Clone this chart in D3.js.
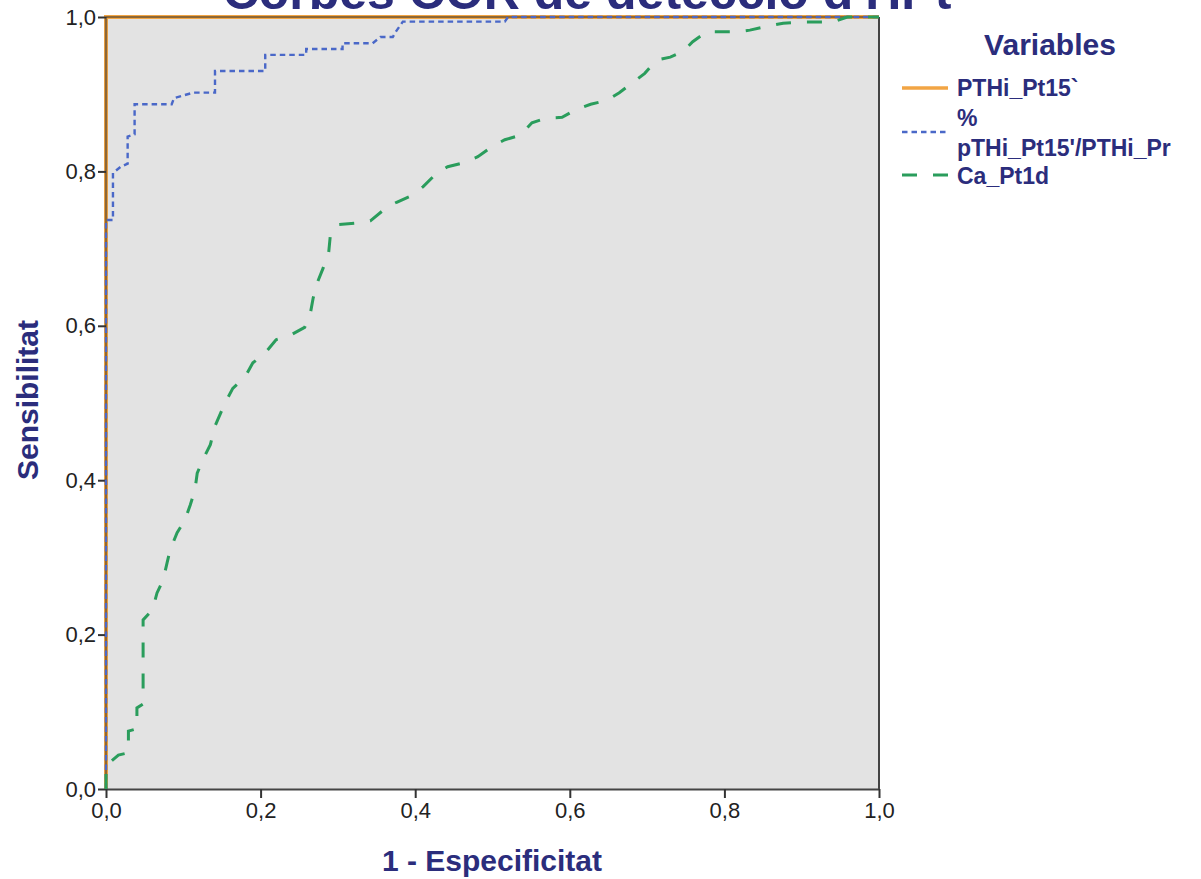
<!DOCTYPE html>
<html>
<head>
<meta charset="utf-8">
<script src="https://cdn.jsdelivr.net/npm/d3@7"></script>
<style>
  html, body { margin: 0; padding: 0; background: #ffffff; }
  svg { display: block; }
  text { font-family: "Liberation Sans", Arial, sans-serif; }
</style>
</head>
<body>
<svg id="chart" width="1201" height="879"></svg>
<script>
// ROC curves: (1 - specificity, sensitivity) pairs for each variable
const seriesNames = ["PTHi_Pt15`", "%\npTHi_Pt15'/PTHi_Pr", "Ca_Pt1d"];

const pthiFpr = [0, 0, 1];
const pthiTpr = [0, 1, 1];

const ratioFpr = [0, 0, 0.009, 0.009, 0.019, 0.028, 0.028, 0.037, 0.037, 0.085, 0.088, 0.113, 0.141, 0.141,
  0.206, 0.206, 0.259, 0.259, 0.306, 0.306, 0.345, 0.355, 0.371, 0.375, 0.384, 0.516, 0.52, 1];
const ratioTpr = [0, 0.737, 0.737, 0.798, 0.806, 0.81, 0.845, 0.848, 0.887, 0.887, 0.895, 0.902, 0.902, 0.930,
  0.930, 0.951, 0.951, 0.9585, 0.9585, 0.966, 0.966, 0.974, 0.974, 0.981, 0.994, 0.994, 1, 1];

const caFpr = [0, 0, 0.016, 0.029, 0.029, 0.040, 0.040, 0.048, 0.048, 0.060, 0.066, 0.074, 0.079, 0.083, 0.092,
  0.102, 0.109, 0.115, 0.118, 0.125, 0.135, 0.141, 0.154, 0.164, 0.180, 0.190, 0.206, 0.220, 0.239,
  0.257, 0.264, 0.268, 0.273, 0.281, 0.288, 0.290, 0.300, 0.323, 0.342, 0.364, 0.376, 0.396, 0.410,
  0.428, 0.442, 0.462, 0.481, 0.499, 0.516, 0.536, 0.551, 0.569, 0.590, 0.608, 0.627, 0.648, 0.664,
  0.680, 0.697, 0.712, 0.730, 0.746, 0.759, 0.777, 0.798, 0.818, 0.833, 0.856, 0.876, 0.898, 0.917,
  0.940, 0.959, 1];
const caTpr = [0, 0.03, 0.044, 0.047, 0.075, 0.078, 0.105, 0.110, 0.219, 0.232, 0.254, 0.271, 0.293, 0.310, 0.332,
  0.348, 0.368, 0.387, 0.409, 0.426, 0.446, 0.470, 0.500, 0.519, 0.534, 0.552, 0.565, 0.582, 0.588,
  0.598, 0.614, 0.636, 0.655, 0.675, 0.694, 0.715, 0.731, 0.733, 0.736, 0.754, 0.760, 0.769, 0.780,
  0.798, 0.806, 0.811, 0.819, 0.832, 0.841, 0.847, 0.863, 0.869, 0.870, 0.880, 0.887, 0.892, 0.902,
  0.914, 0.927, 0.944, 0.948, 0.955, 0.968, 0.981, 0.981, 0.981, 0.983, 0.988, 0.992, 0.9935, 0.9935,
  0.9935, 1.0, 1];

const tickValues = [0, 0.2, 0.4, 0.6, 0.8, 1.0];
const tickLabels = ["0,0", "0,2", "0,4", "0,6", "0,8", "1,0"];

const titleText = "Corbes COR de detecció d'HPt";
const xTitle = "1 - Especificitat";
const yTitle = "Sensibilitat";
const legendTitle = "Variables";

const navy = "#2b2d7c";
const colors = ["#f2a544", "#4a68c8", "#2a9d5c"];

const svg = d3.select("#chart");
const plot = { left: 106, right: 879, top: 17, bottom: 789 };

const x = d3.scaleLinear().domain([0, 1]).range([plot.left, plot.right]);
const y = d3.scaleLinear().domain([0, 1]).range([plot.bottom, plot.top]);

// plot background
svg.append("rect")
  .attr("x", plot.left).attr("y", plot.top)
  .attr("width", plot.right - plot.left).attr("height", plot.bottom - plot.top)
  .attr("fill", "#e3e3e3");

// title (runs off the top edge)
svg.append("text")
  .attr("x", 587).attr("y", 9)
  .attr("text-anchor", "middle")
  .attr("font-size", 50).attr("font-weight", "bold")
  .attr("fill", navy)
  .text(titleText);

const line = d3.line().x(d => x(d[0])).y(d => y(d[1]));
const zip = (a, b) => a.map((v, i) => [v, b[i]]);

// PTHi curve (hugs the left and top edges)
svg.append("path")
  .datum(zip(pthiFpr, pthiTpr))
  .attr("d", line)
  .attr("fill", "none")
  .attr("stroke", colors[0])
  .attr("stroke-width", 4);

// frame drawn over the orange edge, giving it a darker core
const frame = svg.append("g");
frame.append("line").attr("x1", plot.left).attr("x2", plot.right).attr("y1", plot.top).attr("y2", plot.top)
  .attr("stroke", "#2a2a2a").attr("stroke-width", 2.2).attr("opacity", 0.5);
frame.append("line").attr("x1", plot.left).attr("x2", plot.left).attr("y1", plot.top).attr("y2", plot.bottom)
  .attr("stroke", "#2a2a2a").attr("stroke-width", 2.2).attr("opacity", 0.5);
frame.append("line").attr("x1", plot.right).attr("x2", plot.right).attr("y1", plot.top).attr("y2", plot.bottom)
  .attr("stroke", "#444").attr("stroke-width", 2);

// axes
const xAxis = d3.axisBottom(x).tickValues(tickValues).tickFormat((d, i) => tickLabels[i])
  .tickSizeInner(9).tickSizeOuter(0).tickPadding(4);
const yAxis = d3.axisLeft(y).tickValues(tickValues).tickFormat((d, i) => tickLabels[i])
  .tickSizeInner(8).tickSizeOuter(0).tickPadding(2);

const gx = svg.append("g").attr("transform", `translate(0,${plot.bottom})`).call(xAxis);
const gy = svg.append("g").attr("transform", `translate(${plot.left},0)`).call(yAxis);
[gx, gy].forEach(g => {
  g.selectAll("path.domain").attr("stroke", "#444").attr("stroke-width", 2.2);
  g.selectAll(".tick line").attr("stroke", "#333").attr("stroke-width", 2);
  g.selectAll(".tick text")
    .attr("font-family", "'Liberation Sans Narrow', 'Liberation Sans', Arial, sans-serif")
    .attr("font-size", 22).attr("fill", "#222");
});
gy.select("path.domain").attr("opacity", 0);

// ratio curve (dotted blue)
svg.append("path")
  .datum(zip(ratioFpr, ratioTpr))
  .attr("d", line)
  .attr("fill", "none")
  .attr("stroke", colors[1])
  .attr("stroke-width", 2.4)
  .attr("stroke-dasharray", "5.5,4");

// Ca curve (long dashes green)
svg.append("path")
  .datum(zip(caFpr, caTpr))
  .attr("d", line)
  .attr("fill", "none")
  .attr("stroke", colors[2])
  .attr("stroke-width", 3)
  .attr("stroke-dasharray", "15,16");

// axis titles
svg.append("text")
  .attr("x", 492).attr("y", 871)
  .attr("text-anchor", "middle")
  .attr("font-size", 30).attr("font-weight", "bold")
  .attr("fill", navy)
  .text(xTitle);

svg.append("text")
  .attr("transform", "translate(38,400) rotate(-90)")
  .attr("text-anchor", "middle")
  .attr("font-size", 30).attr("font-weight", "bold")
  .attr("fill", navy)
  .text(yTitle);

// legend
const legend = svg.append("g");
legend.append("text")
  .attr("x", 1050).attr("y", 55)
  .attr("text-anchor", "middle")
  .attr("font-size", 30).attr("font-weight", "bold")
  .attr("fill", navy)
  .text(legendTitle);

const legendItems = [
  { lines: seriesNames[0].split("\n"), baseline: 96, sampleY: 88, dash: null, width: 3.5 },
  { lines: seriesNames[1].split("\n"), baseline: 126, sampleY: 132, dash: "5.5,4", width: 2.4 },
  { lines: seriesNames[2].split("\n"), baseline: 184, sampleY: 175, dash: "15,16", width: 3 }
];
legendItems.forEach((it, i) => {
  const s = legend.append("line")
    .attr("x1", 902).attr("x2", 948)
    .attr("y1", it.sampleY).attr("y2", it.sampleY)
    .attr("stroke", colors[i]).attr("stroke-width", it.width);
  if (it.dash) s.attr("stroke-dasharray", it.dash);
  const t = legend.append("text")
    .attr("x", 957).attr("y", it.baseline)
    .attr("font-size", 23).attr("font-weight", "bold")
    .attr("fill", navy);
  it.lines.forEach((ln, j) => {
    t.append("tspan").attr("x", 957).attr("dy", j === 0 ? 0 : 30).text(ln);
  });
});
</script>
</body>
</html>
